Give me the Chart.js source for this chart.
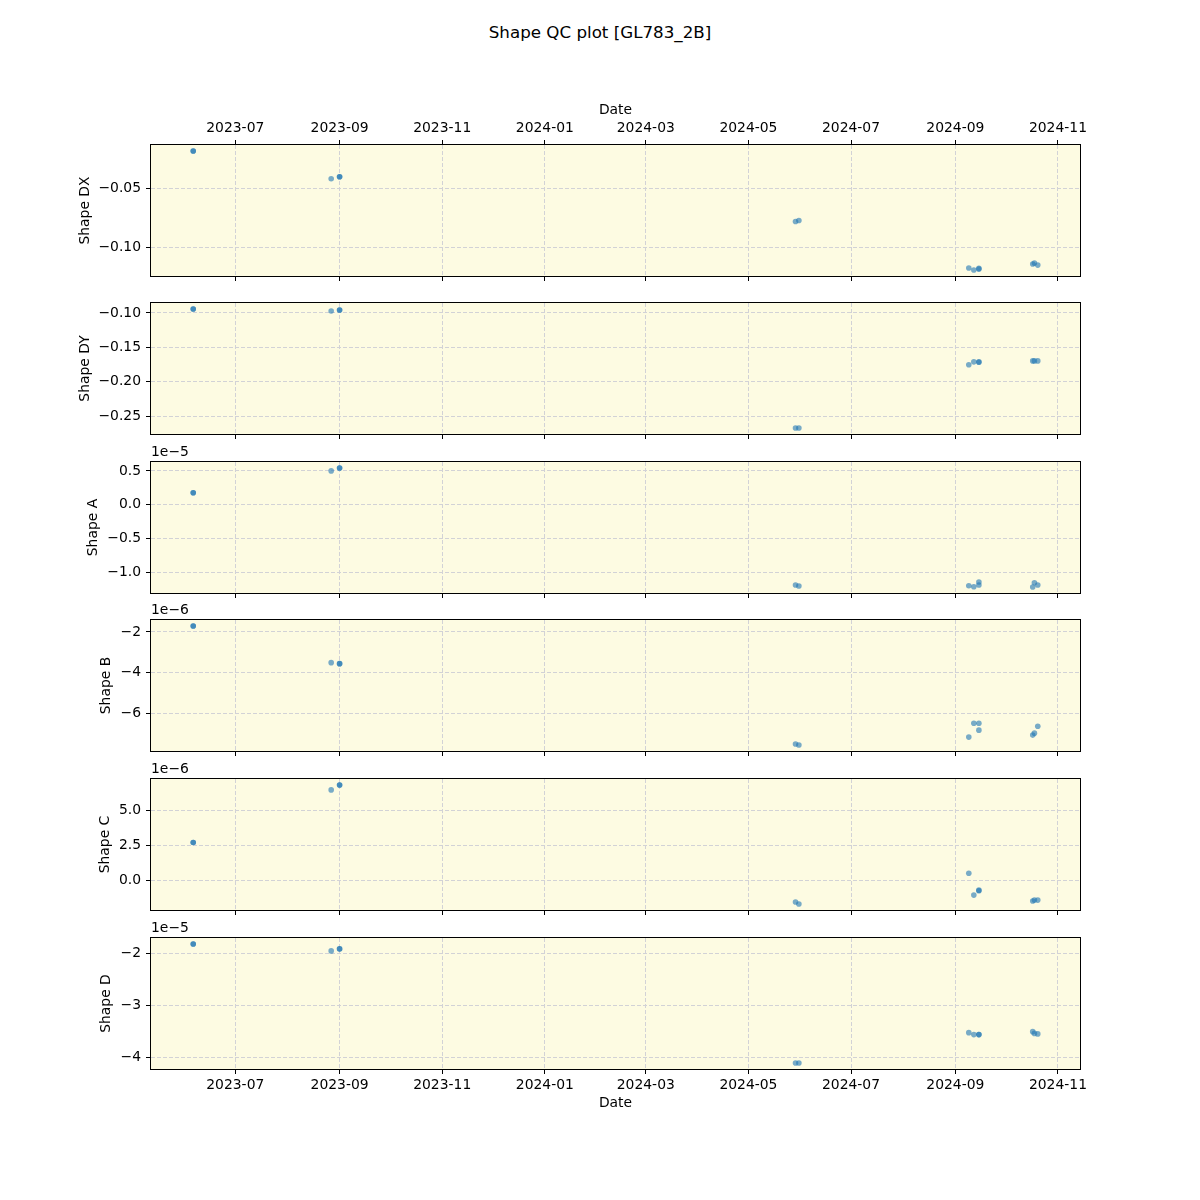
<!DOCTYPE html>
<html>
<head>
<meta charset="utf-8">
<title>Shape QC plot [GL783_2B]</title>
<script src="https://cdn.jsdelivr.net/npm/chart.js@4.4.1/dist/chart.umd.min.js"></script>
<style>
  html, body { margin: 0; padding: 0; background: #fff; }
  #fig { position: relative; width: 1200px; height: 1200px; font-family: 'DejaVu Sans', sans-serif; }
  #title { position: absolute; left: 0; top: 22px; width: 1200px; text-align: center;
           font-size: 16.7px; line-height: 20px; color: #000; }
  #fig canvas { position: absolute; left: 0; }
</style>
</head>
<body>
<div id="fig">
  <div id="title">Shape QC plot [GL783_2B]</div>
</div>
<script>
/* ─── Data ─── */
const dates = [
  '2023-06-06', '2023-06-06', '2023-08-27', '2023-09-01', '2023-09-01',
  '2024-05-29', '2024-05-31',
  '2024-09-09', '2024-09-12', '2024-09-15', '2024-09-15',
  '2024-10-17', '2024-10-18', '2024-10-20',
];
const shapeDX = [
  -0.0182, -0.0182, -0.0418, -0.0401, -0.0401,
  -0.0781, -0.0773,
  -0.1177, -0.1194, -0.1180, -0.1186,
  -0.1143, -0.1135, -0.1152,
];
const shapeDY = [
  -0.0942, -0.0942, -0.0971, -0.0957, -0.0957,
  -0.2673, -0.2673,
  -0.1754, -0.1711, -0.1711, -0.1716,
  -0.1697, -0.1697, -0.1697,
];
const shapeA = [
  0.176e-5, 0.176e-5, 0.500e-5, 0.544e-5, 0.544e-5,
  -1.191e-5, -1.206e-5,
  -1.201e-5, -1.216e-5, -1.147e-5, -1.191e-5,
  -1.221e-5, -1.157e-5, -1.191e-5,
];
const shapeB = [
  -1.707e-6, -1.707e-6, -3.512e-6, -3.561e-6, -3.561e-6,
  -7.512e-6, -7.561e-6,
  -7.171e-6, -6.488e-6, -6.829e-6, -6.488e-6,
  -7.073e-6, -6.976e-6, -6.634e-6,
];
const shapeC = [
  2.714e-6, 2.714e-6, 6.500e-6, 6.857e-6, 6.857e-6,
  -1.571e-6, -1.714e-6,
  0.500e-6, -1.071e-6, -0.714e-6, -0.762e-6,
  -1.500e-6, -1.429e-6, -1.429e-6,
];
const shapeD = [
  -1.809e-5, -1.809e-5, -1.943e-5, -1.904e-5, -1.904e-5,
  -4.101e-5, -4.101e-5,
  -3.516e-5, -3.554e-5, -3.554e-5, -3.554e-5,
  -3.497e-5, -3.530e-5, -3.540e-5,
];

const xTickLabels = ['2023-07', '2023-09', '2023-11', '2024-01', '2024-03',
                     '2024-05', '2024-07', '2024-09', '2024-11'];

const panelNames   = ['Shape DX', 'Shape DY', 'Shape A', 'Shape B', 'Shape C', 'Shape D'];
const panelSeries  = [shapeDX, shapeDY, shapeA, shapeB, shapeC, shapeD];
const panelYTicks  = [
  [-0.10, -0.05],
  [-0.25, -0.20, -0.15, -0.10],
  [-1.0, -0.5, 0.0, 0.5],
  [-6, -4, -2],
  [0.0, 2.5, 5.0],
  [-4, -3, -2],
];
const panelFactor   = [1, 1, 1e-5, 1e-6, 1e-6, 1e-5];
const panelDecimals = [2, 2, 1, 0, 1, 0];
const panelOffset   = ['', '', '1e\u22125', '1e\u22126', '1e\u22126', '1e\u22125'];

/* ─── Layout / style ─── */
const PANEL_TOP  = [145, 303, 462, 620, 779, 938];
const PANEL_H    = 131;
const YLABEL_X   = [85, 85, 93, 106, 105, 106];
const AXIS_W     = 151;
const RIGHT_PAD  = 120;
const BG_COLOR   = '#fdfbe2';
const GRID_COLOR = '#d2d2d6';
const DOT_COLOR  = 'rgba(31,119,180,0.6)';
const FONT_SIZE  = 13.9;
const HALF_LINE  = FONT_SIZE * 1.2 / 2;

Chart.defaults.font.family = "'DejaVu Sans', sans-serif";
Chart.defaults.font.size = FONT_SIZE;
Chart.defaults.color = '#000';

const toMs = s => {
  const [y, m, d] = s.split('-').map(Number);
  return Date.UTC(y, m - 1, d || 1);
};
const xs = dates.map(toMs);
const monthTicks = xTickLabels.map(toMs);

function padRange(vals) {
  const lo = Math.min(...vals), hi = Math.max(...vals);
  const m = (hi - lo) * 0.05;
  return [lo - m, hi + m];
}
const [xMin, xMax] = padRange(xs);

function fmt(v, dec) {
  const s = Math.abs(v).toFixed(dec);
  return (v < 0 && Number(s) !== 0 ? '\u2212' : '') + s;
}
function monthLabel(v) {
  const d = new Date(v);
  return d.getUTCFullYear() + '-' + String(d.getUTCMonth() + 1).padStart(2, '0');
}

/* background, frame and the 1e-n offset text */
const panelDecor = {
  id: 'panelDecor',
  beforeDraw(chart) {
    const { ctx, chartArea: a } = chart;
    ctx.save();
    ctx.fillStyle = BG_COLOR;
    ctx.fillRect(a.left, a.top, a.right - a.left, a.bottom - a.top);
    ctx.restore();
  },
  afterDraw(chart, args, opts) {
    const { ctx, chartArea: a } = chart;
    ctx.save();
    ctx.strokeStyle = '#000';
    ctx.lineWidth = 1;
    ctx.strokeRect(a.left - 0.5, a.top - 0.5, a.right - a.left + 1, a.bottom - a.top + 1);
    if (opts.offset) {
      ctx.fillStyle = '#000';
      ctx.font = FONT_SIZE + "px 'DejaVu Sans', sans-serif";
      ctx.textAlign = 'left';
      ctx.textBaseline = 'alphabetic';
      ctx.fillText(opts.offset, a.left, a.top - 6);
    }
    ctx.restore();
  },
};

const gridOpts = {
  color: GRID_COLOR,
  lineWidth: 1,
  drawTicks: true,
  tickLength: 5,
  tickColor: '#000',
  tickWidth: 1,
  tickBorderDash: [],
};

function buildPanel(i) {
  const first = i === 0;
  const last = i === panelNames.length - 1;
  const topPad = first ? 0 : 20;
  const topAxisH = first ? 60 : 0;
  const bottomH = last ? 50 : 15;
  const canvasTop = PANEL_TOP[i] - (first ? topAxisH : topPad);
  const canvasH = (first ? topAxisH : topPad) + PANEL_H + bottomH;

  const canvas = document.createElement('canvas');
  canvas.width = 1200;
  canvas.height = canvasH;
  canvas.style.top = canvasTop + 'px';
  document.getElementById('fig').appendChild(canvas);

  const series = panelSeries[i];
  const factor = panelFactor[i];
  const dec = panelDecimals[i];
  const [yMin, yMax] = padRange(series);

  const scales = {
    x: {
      type: 'linear', position: 'bottom', min: xMin, max: xMax,
      afterBuildTicks: s => { s.ticks = monthTicks.map(v => ({ value: v })); },
      afterFit: s => { s.height = bottomH; },
      ticks: { display: last, callback: v => monthLabel(v), autoSkip: false, maxRotation: 0, padding: 3 },
      grid: gridOpts,
      border: { display: false, dash: [4, 2] },
      title: { display: last, text: 'Date', padding: { top: 0, bottom: 16 - HALF_LINE } },
    },
    y: {
      type: 'linear', position: 'left', min: yMin, max: yMax,
      afterBuildTicks: s => { s.ticks = panelYTicks[i].map(v => ({ value: v * factor })); },
      afterFit: s => { s.width = AXIS_W; },
      ticks: { callback: v => fmt(v / factor, dec), padding: 5 },
      grid: gridOpts,
      border: { display: false, dash: [4, 2] },
      title: { display: true, text: panelNames[i], padding: { top: YLABEL_X[i] - HALF_LINE, bottom: 0 } },
    },
  };
  if (first) {
    scales.xTop = {
      type: 'linear', position: 'top', min: xMin, max: xMax,
      afterBuildTicks: s => { s.ticks = monthTicks.map(v => ({ value: v })); },
      afterFit: s => { s.height = topAxisH; },
      ticks: { callback: v => monthLabel(v), autoSkip: false, maxRotation: 0, padding: 3 },
      grid: Object.assign({}, gridOpts, { drawOnChartArea: false }),
      border: { display: false },
      title: { display: true, text: 'Date', padding: { top: 25 - HALF_LINE, bottom: 0 } },
    };
  }

  new Chart(canvas, {
    type: 'scatter',
    data: {
      datasets: [{
        data: xs.map((x, k) => ({ x, y: series[k] })),
        backgroundColor: DOT_COLOR,
        borderWidth: 0,
        pointRadius: 2.8,
      }],
    },
    options: {
      responsive: false,
      animation: false,
      events: [],
      layout: { padding: { left: 0, right: RIGHT_PAD, top: topPad, bottom: 0 } },
      plugins: {
        legend: { display: false },
        tooltip: { enabled: false },
        panelDecor: { offset: panelOffset[i] },
      },
      scales,
    },
    plugins: [panelDecor],
  });
}

panelNames.forEach((_, i) => buildPanel(i));
</script>
</body>
</html>
